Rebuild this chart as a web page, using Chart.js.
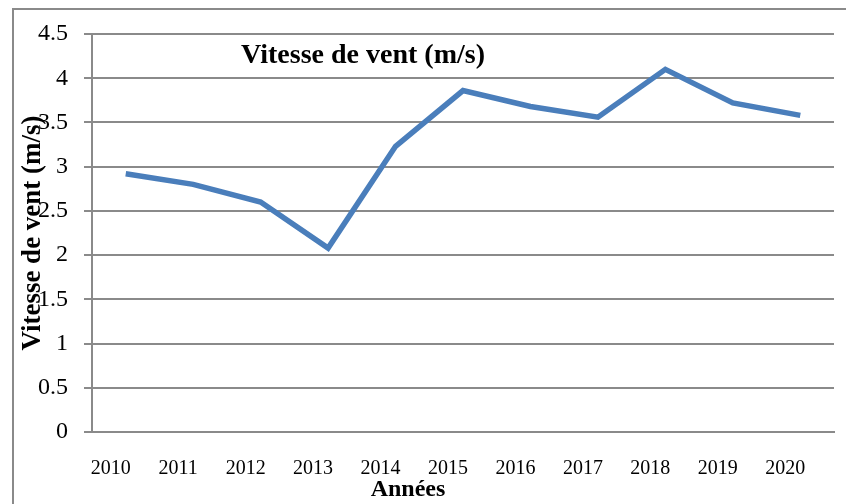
<!DOCTYPE html>
<html>
<head>
<meta charset="utf-8">
<script src="https://cdn.jsdelivr.net/npm/chart.js@4"></script>
<style>
  html, body { margin: 0; padding: 0; background: #fff; overflow: hidden; }
  #wrap { position: relative; width: 846px; height: 504px; }
  #frame { position: absolute; left: 12px; top: 8px; width: 900px; height: 600px;
           border: 2px solid #8a8a8a; box-sizing: border-box; pointer-events: none; }
</style>
</head>
<body>
<div id="wrap">
  <canvas id="windChart" width="846" height="504"></canvas>
  <div id="frame"></div>
</div>
<script>
const years = ['2010', '2011', '2012', '2013', '2014', '2015', '2016', '2017', '2018', '2019', '2020'];
const windSpeed = [2.92, 2.80, 2.60, 2.08, 3.23, 3.86, 3.68, 3.56, 4.10, 3.72, 3.58];
const yMin = 0;
const yMax = 4.5;
const yStep = 0.5;

const chartTitle = 'Vitesse de vent (m/s)';
const yTitle = 'Vitesse de vent (m/s)';
const xTitle = 'Années';

const serif = '"Liberation Serif", "Times New Roman", serif';
const gridGray = '#8a8a8a';

// titles sit inside / over the plot in the original, so draw them by hand
const textPlugin = {
  id: 'textPlugin',
  afterDraw(chart) {
    const ctx = chart.ctx;
    const area = chart.chartArea;
    ctx.save();
    ctx.fillStyle = '#000';
    ctx.textAlign = 'center';
    ctx.textBaseline = 'middle';

    ctx.font = 'bold 28px ' + serif;
    ctx.fillText(chartTitle, area.left + 271, area.top + 22);

    ctx.font = 'bold 24px ' + serif;
    ctx.fillText(xTitle, area.left + 316, area.bottom + 58);

    ctx.translate(33, (area.top + area.bottom) / 2);
    ctx.rotate(-Math.PI / 2);
    ctx.font = 'bold 27px ' + serif;
    ctx.fillText(yTitle, 0, 0);
    ctx.restore();
  }
};

const ctx = document.getElementById('windChart').getContext('2d');
new Chart(ctx, {
  type: 'line',
  data: {
    labels: years,
    datasets: [{
      label: chartTitle,
      data: windSpeed,
      borderColor: '#4a7ebb',
      borderWidth: 5.5,
      pointRadius: 0,
      tension: 0,
      fill: false
    }]
  },
  options: {
    responsive: false,
    animation: false,
    layout: { padding: { top: 34, right: 12, left: 0, bottom: 0 } },
    plugins: {
      legend: { display: false },
      title: { display: false },
      tooltip: { enabled: false }
    },
    scales: {
      x: {
        offset: true,
        grid: { display: false },
        border: { display: true, color: gridGray, width: 2 },
        ticks: {
          color: '#000',
          font: { family: serif, size: 20 },
          padding: 17,
          maxRotation: 0,
          autoSkip: false,
          labelOffset: -15
        },
        afterFit(scale) { scale.height = 72; }
      },
      y: {
        min: yMin,
        max: yMax,
        grid: { color: gridGray, lineWidth: 2, tickLength: 8, drawTicks: true },
        border: { display: true, color: gridGray, width: 2 },
        ticks: {
          stepSize: yStep,
          color: '#000',
          font: { family: serif, size: 24 },
          padding: 16,
          callback: value => String(value)
        },
        afterFit(scale) { scale.width = 92; }
      }
    }
  },
  plugins: [textPlugin]
});
</script>
</body>
</html>
